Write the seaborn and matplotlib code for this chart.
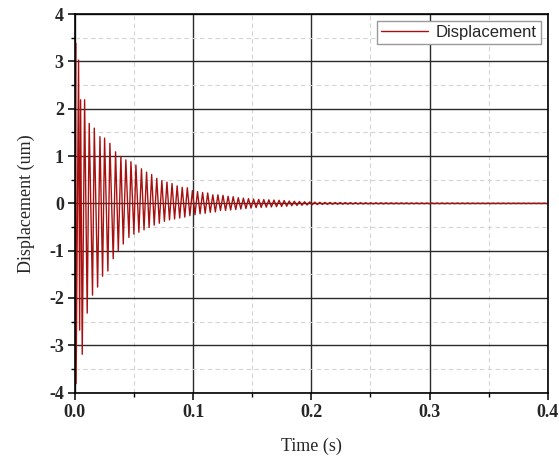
import numpy as np
import pandas as pd
import matplotlib
matplotlib.use("Agg")
import matplotlib.pyplot as plt
import seaborn as sns
from matplotlib.ticker import MultipleLocator

# ---- data ----
# irregular start: explicit zigzag points (time s, displacement um)
early_time = [0.0000, 0.0006, 0.0010, 0.0031, 0.0040, 0.0048, 0.0062, 0.0082,
              0.0104, 0.0121, 0.0149, 0.0164, 0.0192, 0.0212, 0.0234, 0.0251,
              0.0279, 0.0296, 0.0324, 0.0344, 0.0367, 0.0389, 0.0409, 0.0431,
              0.0457, 0.0474, 0.0499, 0.0516, 0.0541]
early_disp = [0.40, 3.39, -3.81, 3.03, -2.68, 2.19, -3.19, 2.19,
              -2.32, 1.69, -1.94, 1.59, -1.77, 1.41, -1.54, 1.38,
              -1.43, 1.27, -1.17, 1.09, -1.00, 0.99, -0.86, 0.92,
              -0.72, 0.88, -0.65, 0.81, -0.61]

# regular ringing afterwards: one positive peak and one trough per period
period = 0.00431
ring_start = 0.0563
peak_amp = [0.73, 0.66, 0.61, 0.53, 0.48, 0.45, 0.42, 0.37, 0.34, 0.33,
            0.27, 0.25, 0.23, 0.22, 0.18, 0.18,
            0.17, 0.15, 0.14, 0.12, 0.11, 0.10, 0.09,
            0.085, 0.08, 0.075, 0.07, 0.065, 0.06, 0.05, 0.045, 0.04, 0.035, 0.03, 0.025,
            0.022, 0.020, 0.019, 0.018, 0.017, 0.016, 0.015, 0.014, 0.013, 0.012, 0.012, 0.011,
            0.011, 0.010, 0.010, 0.009, 0.009, 0.009, 0.008, 0.008, 0.008, 0.007, 0.007, 0.007,
            0.007, 0.006, 0.006, 0.006, 0.006, 0.006, 0.005, 0.005, 0.005, 0.005, 0.005, 0.005,
            0.005, 0.004, 0.004, 0.004, 0.004, 0.004, 0.004, 0.004, 0.004]
trough_amp = [-0.56, -0.51, -0.46, -0.42, -0.38, -0.35, -0.33, -0.31, -0.29, -0.26,
              -0.24, -0.22, -0.21, -0.19, -0.18, -0.15,
              -0.15, -0.14, -0.13, -0.12, -0.11, -0.10, -0.09,
              -0.085, -0.08, -0.075, -0.07, -0.065, -0.06, -0.05, -0.045, -0.04, -0.035, -0.03, -0.025,
              -0.022, -0.020, -0.019, -0.018, -0.017, -0.016, -0.015, -0.014, -0.013, -0.012, -0.012, -0.011,
              -0.011, -0.010, -0.010, -0.009, -0.009, -0.009, -0.008, -0.008, -0.008, -0.007, -0.007, -0.007,
              -0.007, -0.006, -0.006, -0.006, -0.006, -0.006, -0.005, -0.005, -0.005, -0.005, -0.005, -0.005,
              -0.005, -0.004, -0.004, -0.004, -0.004, -0.004, -0.004, -0.004, -0.004]

x_ticks = [0.0, 0.1, 0.2, 0.3, 0.4]
x_tick_labels = ["0.0", "0.1", "0.2", "0.3", "0.4"]
y_ticks = [-4, -3, -2, -1, 0, 1, 2, 3, 4]

# ---- assemble series ----
ring_t, ring_y = [], []
for k, (p, q) in enumerate(zip(peak_amp, trough_amp)):
    tp = ring_start + k * period
    ring_t += [tp, tp + period / 2]
    ring_y += [p, q]
time = np.array(early_time + ring_t)
disp = np.array(early_disp + ring_y)
mask = time <= 0.4
df = pd.DataFrame({"Time": time[mask], "Displacement": disp[mask]})

# ---- plot ----
sns.set_style("white")
plt.rcParams["font.family"] = ["Liberation Serif", "DejaVu Serif"]
plt.rcParams["axes.unicode_minus"] = False

fig = plt.figure(figsize=(5.59, 4.57), dpi=100)
ax = fig.add_axes([0.134, 0.141, 0.846, 0.828])

sns.lineplot(data=df, x="Time", y="Displacement", ax=ax, estimator=None,
             sort=False, color="#A81010", linewidth=1.0, label="Displacement")

ax.set_xlim(0, 0.4)
ax.set_ylim(-4, 4)
ax.set_xticks(x_ticks)
ax.set_xticklabels(x_tick_labels)
ax.set_yticks(y_ticks)
ax.set_yticklabels([str(v) for v in y_ticks])
ax.xaxis.set_minor_locator(MultipleLocator(0.05))
ax.yaxis.set_minor_locator(MultipleLocator(0.5))

ax.grid(which="major", color="#2a2a2a", linewidth=1.0, linestyle="-")
ax.grid(which="minor", color="#d4d4d4", linewidth=0.8, linestyle=(0, (4, 3)))
ax.set_axisbelow(True)

for sp in ax.spines.values():
    sp.set_visible(True)
    sp.set_color("black")
    sp.set_linewidth(1.2)

ax.tick_params(which="major", direction="out", length=5, width=1.1, color="black",
               bottom=True, left=True, pad=3)
ax.tick_params(which="minor", direction="out", length=3, width=1.0, color="black",
               bottom=True, left=True)
for lab in ax.get_xticklabels() + ax.get_yticklabels():
    lab.set_fontweight("bold")
    lab.set_fontsize(13)
    lab.set_family("Liberation Serif")

ax.set_xlabel("Time (s)", fontsize=13, labelpad=12, family="Liberation Serif")
ax.set_ylabel("Displacement (um)", fontsize=13, labelpad=10, family="Liberation Serif")

leg = ax.legend(loc="upper right", prop={"family": "Liberation Sans", "size": 12},
                fancybox=False, frameon=True, handlelength=2.8, borderaxespad=0.4,
                borderpad=0.25, handletextpad=0.5)
leg.get_frame().set_edgecolor("#999999")
leg.get_frame().set_linewidth(1.0)
leg.get_frame().set_alpha(1.0)

fig.savefig("out.png", dpi=100)
